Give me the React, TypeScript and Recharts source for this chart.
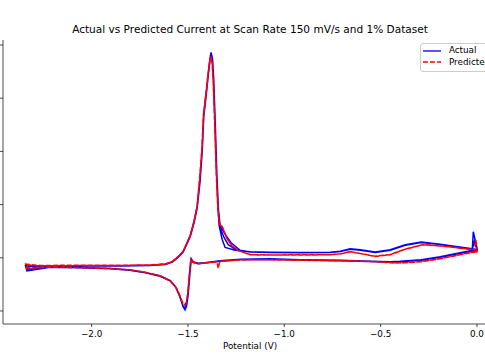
import { Legend, Line, LineChart, XAxis, YAxis } from "recharts";

type Pt = [number, number];

// Potential (V), current (arbitrary units, y tick labels are cropped in the source)
const actualCycle1: Pt[] = [
  [0.0, 0.151], [-0.035, 0.132], [-0.113, 0.075], [-0.191, 0.019], [-0.289, -0.038],
  [-0.398, -0.066], [-0.45, -0.075], [-0.554, -0.066], [-0.71, -0.047], [-0.917, -0.038],
  [-1.073, -0.019], [-1.229, -0.028], [-1.333, -0.056], [-1.411, -0.094], [-1.447, -0.104],
  [-1.473, -0.075], [-1.483, -0.019], [-1.491, -0.32], [-1.499, -0.697], [-1.507, -0.904],
  [-1.515, -0.979], [-1.525, -0.923], [-1.54, -0.753], [-1.561, -0.565], [-1.592, -0.433],
  [-1.644, -0.348], [-1.721, -0.282], [-1.8, -0.235], [-1.903, -0.207], [-2.059, -0.188],
  [-2.215, -0.179], [-2.336, -0.245],
  [-2.343, -0.151], [-2.267, -0.16], [-2.059, -0.151], [-1.852, -0.151], [-1.696, -0.141],
  [-1.618, -0.122], [-1.581, -0.075], [-1.55, 0.019], [-1.525, 0.113], [-1.504, 0.282],
  [-1.488, 0.414], [-1.468, 0.678], [-1.452, 0.96], [-1.437, 1.469], [-1.426, 2.034],
  [-1.418, 2.693], [-1.406, 3.07], [-1.395, 3.446], [-1.385, 3.766], [-1.38, 3.861],
  [-1.372, 3.729], [-1.367, 3.352], [-1.359, 2.505], [-1.351, 1.563], [-1.343, 0.904],
  [-1.338, 0.603], [-1.322, 0.339], [-1.307, 0.194], [-1.255, 0.141], [-1.177, 0.113],
  [-1.073, 0.104], [-0.917, 0.1], [-0.762, 0.104], [-0.71, 0.122], [-0.658, 0.169],
  [-0.606, 0.151], [-0.528, 0.107], [-0.45, 0.151], [-0.372, 0.245], [-0.289, 0.296],
  [-0.191, 0.254], [-0.071, 0.194], [-0.024, 0.169], [-0.019, 0.49], [-0.004, 0.245],
  [0.002, 0.151],
];

const actualCycle2: Pt[] = [
  [0.0, 0.16], [-0.035, 0.128], [-0.113, 0.07], [-0.191, 0.015], [-0.289, -0.042],
  [-0.398, -0.07], [-0.45, -0.078], [-0.554, -0.068], [-0.71, -0.05], [-0.917, -0.04],
  [-1.073, -0.024], [-1.229, -0.03], [-1.333, -0.06], [-1.411, -0.098], [-1.447, -0.108],
  [-1.473, -0.08], [-1.483, -0.03], [-1.491, -0.33], [-1.499, -0.7], [-1.507, -0.9],
  [-1.515, -0.965], [-1.525, -0.915], [-1.54, -0.745], [-1.561, -0.56], [-1.592, -0.428],
  [-1.644, -0.342], [-1.721, -0.278], [-1.8, -0.232], [-1.903, -0.204], [-2.059, -0.186],
  [-2.215, -0.176], [-2.33, -0.225],
  [-2.34, -0.16], [-2.267, -0.165], [-2.059, -0.156], [-1.852, -0.155], [-1.696, -0.146],
  [-1.618, -0.126], [-1.581, -0.08], [-1.55, 0.012], [-1.525, 0.105], [-1.504, 0.27],
  [-1.488, 0.4], [-1.468, 0.66], [-1.452, 0.94], [-1.437, 1.44], [-1.426, 2.0],
  [-1.418, 2.65], [-1.406, 3.04], [-1.395, 3.42], [-1.385, 3.74], [-1.38, 3.83],
  [-1.372, 3.7], [-1.367, 3.33], [-1.359, 2.49], [-1.351, 1.56], [-1.343, 0.91],
  [-1.338, 0.603], [-1.312, 0.377], [-1.291, 0.245], [-1.245, 0.141], [-1.177, 0.11],
  [-1.073, 0.1], [-0.917, 0.096], [-0.762, 0.1], [-0.71, 0.118], [-0.658, 0.163],
  [-0.606, 0.146], [-0.528, 0.102], [-0.45, 0.146], [-0.372, 0.24], [-0.289, 0.29],
  [-0.191, 0.25], [-0.071, 0.19], [-0.024, 0.165], [-0.014, 0.3], [0.0, 0.16],
];

const actualCycle3: Pt[] = [
  [0.0, 0.14], [-0.035, 0.12], [-0.113, 0.065], [-0.191, 0.01], [-0.289, -0.045],
  [-0.398, -0.075], [-0.45, -0.082], [-0.554, -0.072], [-0.71, -0.054], [-0.917, -0.044],
  [-1.073, -0.03], [-1.229, -0.034], [-1.333, -0.064], [-1.411, -0.1], [-1.447, -0.112],
  [-1.473, -0.084], [-1.485, -0.035], [-1.493, -0.34], [-1.501, -0.69], [-1.509, -0.89],
  [-1.517, -0.95], [-1.527, -0.9], [-1.542, -0.735], [-1.563, -0.555], [-1.594, -0.425],
  [-1.646, -0.338], [-1.723, -0.275], [-1.8, -0.23], [-1.903, -0.202], [-2.059, -0.184],
  [-2.215, -0.174], [-2.325, -0.215],
  [-2.335, -0.15], [-2.267, -0.158], [-2.059, -0.15], [-1.852, -0.15], [-1.696, -0.14],
  [-1.618, -0.12], [-1.581, -0.072], [-1.55, 0.022], [-1.525, 0.118], [-1.504, 0.288],
  [-1.488, 0.424], [-1.468, 0.69], [-1.452, 0.975], [-1.437, 1.49], [-1.426, 2.05],
  [-1.418, 2.7], [-1.406, 3.08], [-1.395, 3.44], [-1.385, 3.75], [-1.38, 3.845],
  [-1.372, 3.715], [-1.366, 3.34], [-1.358, 2.5], [-1.35, 1.57], [-1.342, 0.915],
  [-1.333, 0.603], [-1.302, 0.414], [-1.276, 0.282], [-1.229, 0.141], [-1.177, 0.108],
  [-1.073, 0.098], [-0.917, 0.094], [-0.762, 0.098], [-0.71, 0.116], [-0.658, 0.16],
  [-0.606, 0.142], [-0.528, 0.1], [-0.45, 0.142], [-0.372, 0.236], [-0.289, 0.288],
  [-0.191, 0.248], [-0.071, 0.19], [-0.024, 0.172], [0.0, 0.15],
];

const predictedCycle1: Pt[] = [
  [0.002, 0.113], [-0.035, 0.094], [-0.113, 0.038], [-0.191, -0.019], [-0.289, -0.075],
  [-0.372, -0.094], [-0.424, -0.098], [-0.528, -0.075], [-0.71, -0.056], [-0.917, -0.047],
  [-1.073, -0.038], [-1.229, -0.04], [-1.335, -0.07], [-1.343, -0.2], [-1.349, -0.08],
  [-1.411, -0.096], [-1.447, -0.113], [-1.473, -0.085], [-1.485, -0.025], [-1.491, -0.3],
  [-1.499, -0.64], [-1.507, -0.83], [-1.518, -0.885], [-1.528, -0.845], [-1.54, -0.72],
  [-1.561, -0.56], [-1.592, -0.43], [-1.644, -0.34], [-1.721, -0.272], [-1.8, -0.228],
  [-1.903, -0.2], [-2.059, -0.182], [-2.215, -0.172], [-2.336, -0.21],
  [-2.343, -0.12], [-2.267, -0.145], [-2.059, -0.14], [-1.852, -0.142], [-1.696, -0.135],
  [-1.618, -0.115], [-1.581, -0.07], [-1.55, 0.025], [-1.525, 0.12], [-1.504, 0.29],
  [-1.488, 0.42], [-1.468, 0.69], [-1.452, 0.98], [-1.44, 1.48], [-1.428, 2.04],
  [-1.42, 2.68], [-1.408, 3.05], [-1.397, 3.42], [-1.387, 3.72], [-1.381, 3.785],
  [-1.375, 3.66], [-1.369, 3.3], [-1.361, 2.48], [-1.353, 1.56], [-1.345, 0.92],
  [-1.338, 0.64], [-1.322, 0.59], [-1.299, 0.37], [-1.273, 0.226], [-1.239, 0.137],
  [-1.177, 0.056], [-1.073, 0.05], [-0.917, 0.052], [-0.762, 0.056], [-0.71, 0.072],
  [-0.658, 0.113], [-0.606, 0.08], [-0.528, 0.024], [-0.45, 0.058], [-0.372, 0.16],
  [-0.279, 0.245], [-0.191, 0.222], [-0.061, 0.169], [-0.014, 0.15], [-0.006, 0.339],
  [0.002, 0.113],
];

const predictedCycle2: Pt[] = [
  [0.002, 0.12], [-0.035, 0.098], [-0.113, 0.042], [-0.191, -0.015], [-0.289, -0.07],
  [-0.372, -0.09], [-0.424, -0.094], [-0.528, -0.072], [-0.71, -0.052], [-0.917, -0.044],
  [-1.073, -0.036], [-1.229, -0.038], [-1.333, -0.066], [-1.411, -0.094], [-1.447, -0.11],
  [-1.473, -0.082], [-1.484, -0.03], [-1.492, -0.31], [-1.5, -0.65], [-1.508, -0.84],
  [-1.517, -0.89], [-1.527, -0.85], [-1.541, -0.725], [-1.562, -0.565], [-1.593, -0.435],
  [-1.645, -0.345], [-1.722, -0.276], [-1.8, -0.232], [-1.903, -0.204], [-2.059, -0.186],
  [-2.215, -0.176], [-2.33, -0.19],
  [-2.34, -0.135], [-2.267, -0.152], [-2.059, -0.146], [-1.852, -0.146], [-1.696, -0.138],
  [-1.618, -0.118], [-1.581, -0.074], [-1.55, 0.02], [-1.525, 0.116], [-1.504, 0.284],
  [-1.488, 0.414], [-1.468, 0.682], [-1.452, 0.97], [-1.439, 1.47], [-1.427, 2.03],
  [-1.419, 2.67], [-1.407, 3.04], [-1.396, 3.41], [-1.386, 3.705], [-1.38, 3.77],
  [-1.374, 3.65], [-1.368, 3.29], [-1.36, 2.47], [-1.352, 1.55], [-1.344, 0.915],
  [-1.337, 0.635], [-1.322, 0.58], [-1.298, 0.365], [-1.27, 0.22], [-1.236, 0.132],
  [-1.177, 0.06], [-1.073, 0.054], [-0.917, 0.055], [-0.762, 0.058], [-0.71, 0.074],
  [-0.658, 0.116], [-0.606, 0.082], [-0.528, 0.028], [-0.45, 0.062], [-0.372, 0.164],
  [-0.279, 0.25], [-0.191, 0.226], [-0.061, 0.172], [-0.014, 0.155], [0.002, 0.12],
];

const xTicks = [-2.0, -1.5, -1.0, -0.5, 0.0];
const yTicks = [-1, 0, 1, 2, 3, 4];

const toPoints = (cycles: Pt[][]) =>
  cycles.flat().map(([potential, current]) => ({ potential, current }));

const actualData = toPoints([actualCycle1, actualCycle2, actualCycle3]);
const predictedData = toPoints([predictedCycle1, predictedCycle2]);

const fmt = (v: number) => (v < 0 ? "\u2212" : "") + Math.abs(v).toFixed(1);

const font = "'DejaVu Sans', sans-serif";
const lineW = 1.5;
const dash = "4.9 2.1";

function LegendBox() {
  const row = (label: string, color: string, dashArray?: string) => (
    <div style={{ display: "flex", alignItems: "center", height: 11.7 }}>
      <svg width={18} height={4} style={{ display: "block", flex: "none" }}>
        <line x1={0} y1={2} x2={18} y2={2} stroke={color} strokeWidth={1.32} strokeDasharray={dashArray} />
      </svg>
      <span style={{ marginLeft: 7.6, whiteSpace: "nowrap" }}>{label}</span>
    </div>
  );
  return (
    <div
      style={{
        width: 80,
        border: "1px solid #cccccc",
        borderRadius: 3,
        background: "rgba(255,255,255,0.8)",
        padding: "0.8px 0 2.6px 2.3px",
        fontSize: 8.8,
        fontFamily: font,
        color: "#000",
        lineHeight: 1,
      }}
    >
      {row("Actual", "#0000ff")}
      {row("Predicted", "#ff0000", dash)}
    </div>
  );
}

export default function App() {
  return (
    <div
      style={{
        position: "absolute",
        left: 0,
        top: 0,
        width: 485,
        height: 360,
        overflow: "hidden",
        background: "#fff",
        fontFamily: font,
      }}
    >
      <div
        style={{
          position: "absolute",
          left: 0,
          top: 23,
          width: 500,
          textAlign: "center",
          fontSize: 10.55,
          color: "#000",
          whiteSpace: "nowrap",
        }}
      >
        Actual vs Predicted Current at Scan Rate 150 mV/s and 1% Dataset
      </div>
      <LineChart
        width={500}
        height={360}
        margin={{ top: 40, right: 3, bottom: 0, left: 0 }}
        style={{ position: "absolute", left: 0, top: 0, fontFamily: font }}
      >
        <XAxis
          dataKey="potential"
          type="number"
          domain={[-2.46, 0.104]}
          allowDataOverflow
          ticks={xTicks}
          tickFormatter={fmt}
          height={36}
          tickSize={3.1}
          tickMargin={3.3}
          stroke="#000"
          strokeWidth={0.7}
          tick={{ fill: "#000", fontSize: 8.8 }}
          label={{ value: "Potential (V)", position: "insideBottom", offset: 11.5, fill: "#000", fontSize: 8.8 }}
        />
        <XAxis
          xAxisId="top"
          orientation="top"
          type="number"
          domain={[-2.46, 0.104]}
          height={0}
          tick={false}
          tickLine={false}
          stroke="#000"
          strokeWidth={0.7}
        />
        <YAxis
          type="number"
          domain={[-1.245, 4.094]}
          allowDataOverflow
          ticks={yTicks}
          width={3}
          tickSize={3.1}
          stroke="#000"
          strokeWidth={0.7}
          tick={() => <g />}
        />
        <Legend
          layout="vertical"
          align="center"
          verticalAlign="middle"
          wrapperStyle={{ position: "absolute", left: 420, top: 43, width: 85 }}
          content={() => <LegendBox />}
        />
        <Line
          data={actualData}
          dataKey="current"
          name="Actual"
          stroke="#0000ff"
          strokeWidth={lineW}
          dot={false}
          isAnimationActive={false}
        />
        <Line
          data={predictedData}
          dataKey="current"
          name="Predicted"
          stroke="#ff0000"
          strokeWidth={lineW}
          strokeDasharray={dash}
          dot={false}
          isAnimationActive={false}
        />
      </LineChart>
    </div>
  );
}
